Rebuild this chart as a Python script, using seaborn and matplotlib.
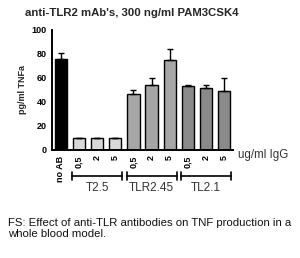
import numpy as np
import pandas as pd
import matplotlib
matplotlib.use("Agg")
import matplotlib.pyplot as plt
import matplotlib.transforms as mtransforms
import seaborn as sns

# data
labels = ["no AB", "0,5", "2", "5", "0,5", "2", "5", "0,5", "2", "5"]
groups = ["none", "T2.5", "T2.5", "T2.5", "TLR2.45", "TLR2.45", "TLR2.45", "TL2.1", "TL2.1", "TL2.1"]
values = [76, 10, 10, 10, 47, 54, 75, 53, 52, 49]
errors = [5, 0, 0, 0, 3, 6, 9, 1, 2, 11]
group_names = ["T2.5", "TLR2.45", "TL2.1"]
colors = {"none": "#000000", "T2.5": "#d8d8d8", "TLR2.45": "#a6a6a6", "TL2.1": "#8a8a8a"}

df = pd.DataFrame({"pos": range(len(values)), "label": labels, "group": groups, "value": values})

sns.set_style("white")
plt.rcParams["font.family"] = ["Liberation Sans", "DejaVu Sans"]

fig = plt.figure(figsize=(3.0, 2.58), dpi=100)
ax = fig.add_axes([0.173, 0.419, 0.604, 0.465])

sns.barplot(data=df, x="pos", y="value", hue="group", palette=colors, dodge=False,
            width=0.67, edgecolor="black", linewidth=1.0, legend=False, ax=ax)
ax.errorbar(df["pos"], df["value"], yerr=[np.zeros(len(errors)), errors], fmt="none",
            ecolor="black", elinewidth=1.0, capsize=2.5, capthick=1.0)

ax.set_xlim(-0.5, 9.5)
ax.set_ylim(0, 100)
ax.set_yticks([0, 20, 40, 60, 80, 100])
ax.set_yticklabels([str(v) for v in [0, 20, 40, 60, 80, 100]], fontsize=6.5, fontweight="bold")
ax.set_xticks(df["pos"])
ax.set_xticklabels(labels, rotation=90, fontsize=6.5, fontweight="bold", va="top")
ax.tick_params(axis="both", direction="out", length=3, width=1.0, pad=1, colors="black")
for s in ["top", "right"]:
    ax.spines[s].set_visible(False)
for s in ["left", "bottom"]:
    ax.spines[s].set_linewidth(1.4)
    ax.spines[s].set_color("black")
ax.set_xlabel("")
ax.set_ylabel("pg/ml TNFa", fontsize=6.5, fontweight="bold", labelpad=3)
ax.set_title("anti-TLR2 mAb's, 300 ng/ml PAM3CSK4", fontsize=8.2, fontweight="bold",
             x=0.44, pad=10)

trans = mtransforms.blended_transform_factory(ax.transData, fig.transFigure)
ax.text(9.75, 1 - 155 / 258, "ug/ml IgG", transform=trans, fontsize=8.3, color="#333333",
        ha="left", va="center")
spans = [(0.62, 3.38), (3.62, 6.38), (6.62, 9.38)]
for name, (a, b) in zip(group_names, spans):
    y = 1 - 176 / 258
    ax.plot([a, b], [y, y], transform=trans, color="black", lw=1.2, clip_on=False)
    for xx in (a, b):
        ax.plot([xx, xx], [y - 0.015, y + 0.015], transform=trans, color="black", lw=1.2, clip_on=False)
    ax.text((a + b) / 2, 1 - 188 / 258, name, transform=trans, fontsize=8.5, color="#333333",
            ha="center", va="center")

fig.text(8 / 300, 1 - 218 / 258, "FS: Effect of anti-TLR antibodies on TNF production in a\nwhole blood model.",
         fontsize=8.2, ha="left", va="top", linespacing=1.15, color="#111111")

fig.savefig("out.png", dpi=100)
